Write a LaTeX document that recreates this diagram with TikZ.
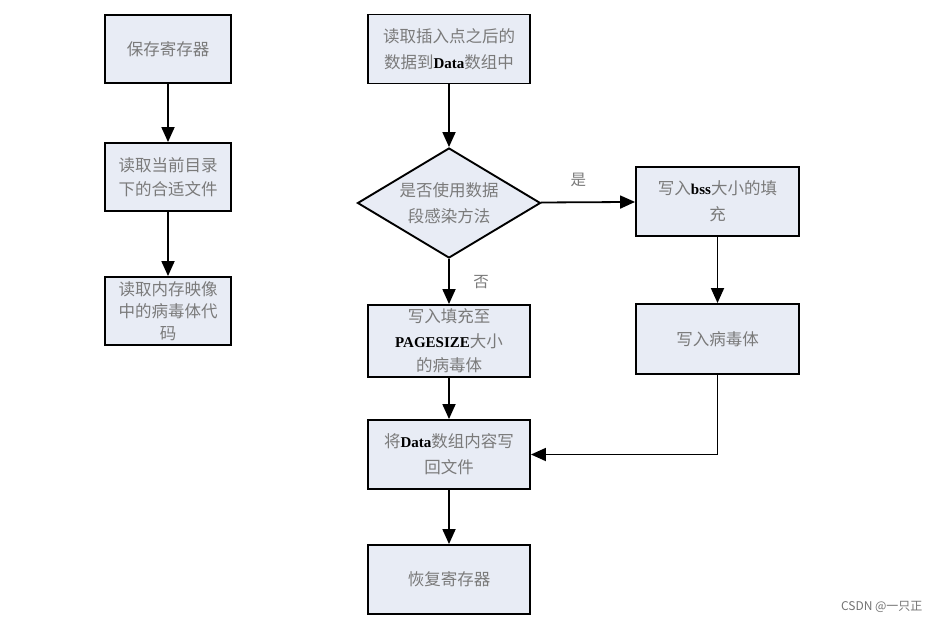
\documentclass[tikz,border=0pt]{standalone}
\usepackage{fontspec}
\setmainfont{Liberation Serif}
\newfontfamily\cjk{Noto Sans CJK SC}
\usetikzlibrary{shapes.geometric,arrows.meta}
\definecolor{boxfill}{HTML}{E8ECF5}
\definecolor{txtgray}{HTML}{7A7A7A}
\newcommand{\lat}[1]{{\rmfamily\bfseries\fontsize{15}{26}\selectfont\color{black}#1}}
\tikzset{
  x=1pt,y=-1pt,
  stepbox/.style={draw=black,line width=1.9pt,fill=boxfill,rectangle,
    minimum width=126pt,minimum height=68pt,inner sep=1pt,align=center,
    font=\cjk\fontsize{16.5}{26}\selectfont,text=txtgray},
  widebox/.style={stepbox,minimum width=162pt,minimum height=69pt},
  decision/.style={draw=black,line width=1.9pt,fill=boxfill,diamond,
    minimum width=183pt,minimum height=110pt,inner sep=0pt},
  dtext/.style={align=center,inner sep=0pt,
    font=\cjk\fontsize{16.5}{26}\selectfont,text=txtgray},
  flow/.style={line width=1.8pt,-{Triangle[length=15pt,width=13pt]}},
  lbl/.style={font=\cjk\fontsize{15.5}{17}\selectfont,text=txtgray}
}
\begin{document}
\begin{tikzpicture}
\useasboundingbox (0,0) rectangle (940,624);
% left column
\node[stepbox] (a) at (168,49) {保存寄存器};
\node[stepbox,font=\cjk\fontsize{16.5}{24}\selectfont] (b) at (168,177) {读取当前目录\\下的合适文件};
\node[stepbox,font=\cjk\fontsize{16.5}{22}\selectfont] (c) at (168,311) {读取内存映像\\中的病毒体代\\码};
\draw[flow] (a) -- (b);
\draw[flow] (b) -- (c);
% middle column
\node[widebox] (d) at (449,49) {读取插入点之后的\\数据到\lat{Data}数组中};
\node[decision] (q) at (449,203) {};
\node[dtext] (qt) at (q.center) {是否使用数据\\段感染方法};
\node[widebox,minimum height=72pt,font=\cjk\fontsize{16.5}{24.5}\selectfont] (g) at (449,341) {写入填充至\\\lat{PAGESIZE}大小\\的病毒体};
\node[widebox] (h) at (449,454.5) {将\lat{Data}数组内容写\\回文件};
\node[widebox] (i) at (449,579.5) {恢复寄存器};
% right column
\node[widebox,minimum width=163pt] (e) at (717.5,201.5) {写入\lat{bss}大小的填\\充};
\node[widebox,minimum width=163pt,minimum height=70pt] (f) at (717.5,339) {写入病毒体};
% connectors
\draw[flow] (d) -- (q);
\draw[flow] (q) -- (g);
\draw[flow] (q) -- (e);
\node[lbl] (yes) at ([xshift=37pt,yshift=23pt]q.east) {是};
\node[lbl] (no) at ([xshift=32pt,yshift=-23pt]q.south) {否};
\draw[flow] (e) -- (f);
\draw[flow] (g) -- (h);
\draw[flow] (h) -- (i);
\coordinate (bend) at (f.south |- h.east);
\draw[flow] (f.south) -- (bend) -- (h.east);
% watermark
\node[font=\cjk\fontsize{12}{14}\selectfont,text=black!55,anchor=east] (wm) at (926,607) {CSDN @一只正};
\end{tikzpicture}
\end{document}
